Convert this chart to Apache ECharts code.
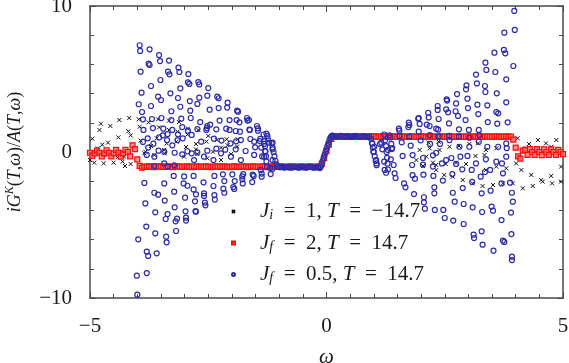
<!DOCTYPE html>
<html><head><meta charset="utf-8">
<script src="https://cdn.jsdelivr.net/npm/echarts@6/dist/echarts.min.js"></script>
<style>html,body{margin:0;padding:0;background:#fff}#c{width:569px;height:363px}</style>
</head><body><div id="c"></div>
<script>
// ---------- data ----------
const xTicks = [-5, 0, 5];
const yTicks = [-10, 0, 10];
const seriesNames = ['Ji1', 'Jf2', 'Jf05'];

// J_i = 1, T = -14.7 (black crosses)
const blackPts = [[-4.77,1.94],[-4.80,1.51],[-4.57,1.78],[-4.38,2.19],[-4.17,2.33],[-4.95,0.91],[-4.74,0.50],[-4.62,0.64],[-4.40,1.00],[-4.19,1.42],[-4.14,1.14],[-3.97,2.24],[-3.95,1.73],[-3.76,2.03],[-3.56,2.24],[-3.54,1.69],[-3.33,2.15],[-3.12,2.05],[-3.33,1.51],[-3.15,1.39],[-2.93,1.60],[-2.94,1.19],[-2.71,1.51],[-3.93,0.78],[-3.71,0.41],[-3.59,0.94],[-3.38,0.59],[-3.17,0.71],[-2.97,0.34],[-2.76,0.55],[-2.54,0.71],[-2.50,1.10],[-2.32,0.82],[-2.11,0.87],[-1.88,0.87],[-4.84,0.25],[-4.40,0.02],[-3.83,0.02],[-3.42,-0.09],[-2.76,0.18],[-2.40,0.02],[-2.23,0.30],[-2.09,0.46],[-1.89,0.37],[-5.00,-0.55],[-4.91,-0.73],[-4.71,-0.78],[-4.50,-0.73],[-4.31,-0.66],[-4.26,-0.96],[-4.14,-0.82],[-3.85,-0.09],[-3.64,-0.21],[-3.43,0.14],[-3.01,-0.32],[-2.73,-0.14],[-2.52,-0.43],[-2.23,-0.55],[-2.02,-0.14],[-4.91,-0.09],[-4.70,-0.21],[-4.42,-0.37],[-4.28,-0.32],
[2.16,0.64],[2.37,0.71],[2.60,0.36],[2.80,0.41],[3.02,0.55],[3.20,0.59],[3.37,0.14],[3.59,0.25],[4.04,0.94],[4.28,0.55],[4.47,0.82],[4.64,0.59],[4.86,0.82],[4.75,0.36],[4.47,0.25],[4.22,0.25],[2.18,0.25],[1.97,0.14],[2.39,0.14],[2.04,-0.96],[2.25,-0.73],[2.32,-0.89],[2.52,-0.82],[2.74,-0.73],[2.95,-0.82],[3.15,-0.27],[3.37,-1.23],[3.34,-0.21],[3.59,-1.00],[3.80,-1.12],[4.01,-0.78],[4.12,-1.23],[4.33,-1.57],[4.54,-1.92],[4.75,-1.64],[4.96,-1.00],[4.96,-2.03],[4.15,-2.49],[4.36,-2.33],[4.57,-2.03],[4.77,-2.15],[3.94,-2.15],[3.73,-2.15],[3.52,-2.26],[3.30,-2.33],[3.09,-2.15],[2.88,-1.92],[2.67,-1.69],[2.49,-1.57],[2.32,-1.23],[2.11,-0.32],[1.90,-0.55]];

// J_f = 2, T = 14.7 (red squares), sampled on an omega grid
const redOmegaStart = -5, redOmegaStep = 0.05;
const redValues = [
-0.05,-0.25,-0.10,0.10,-0.05,-0.30,-0.10,0.12,-0.05,-0.30,-0.10,0.15,-0.05,-0.32,-0.10,0.15,0.00,-0.30,0.45,0.20,-0.50,-0.95,-1.08,
-1.02,-1.00,-0.98,-1.00,-1.03,-1.01,-0.99,-1.00,-1.02,-1.00,
-0.98,-1.01,-1.03,-1.00,-0.99,-1.00,-1.02,-1.01,-0.98,-1.00,
-1.03,-1.00,-0.99,-1.01,-1.02,-1.00,-0.98,-1.00,-1.03,-1.01,
-0.99,-1.00,-1.02,-1.00,-0.98,-1.01,-1.03,-1.00,-0.99,-1.00,
-1.02,-1.01,-0.98,-1.00,-1.03,-1.00,-0.99,-1.01,-1.02,-1.00,
-0.98,-1.00,-1.03,-1.01,-0.99,-1.00,-1.02,-1.00,-0.98,-1.01,
-1.03,-1.00,-0.99,-1.00,-1.02,-1.01,-0.98,-1.00,-1.03,-1.00,
-0.99,-1.01,-1.02,-1.00,
-1.00,-0.80,-0.40,0.05,0.50,0.90,1.05,
1.05,1.07,1.04,1.05,1.08,1.06,1.03,1.05,1.07,1.05,
1.04,1.06,1.08,1.05,1.03,1.05,1.07,1.06,1.04,1.05,
1.08,1.05,1.03,1.06,1.07,1.05,1.04,1.05,1.08,1.06,
1.03,1.05,1.07,1.05,1.04,1.06,1.08,1.05,1.03,1.05,
1.07,1.06,1.04,1.05,1.08,1.05,1.03,1.06,1.07,1.05,
1.04,1.05,1.08,1.06,1.03,1.05,1.07,1.05,1.04,1.06,
1.08,1.05,1.03,1.05,1.07,1.06,1.04,1.05,1.08,1.05,
1.03,1.06,1.07,1.05,
1.05,0.85,0.30,-0.30,-0.45,0.10,0.15,-0.20,0.20,0.00,-0.20,0.20,0.00,-0.22,0.18,0.00,-0.20,0.18,0.00,-0.20,0.15,0.00,-0.15];

// J_f = 0.5, T = 14.7 (blue circles)
const blueLeft = [[-3.95,7.31],[-3.94,6.92],[-3.74,7.03],[-3.54,6.64],[-3.52,6.23],[-3.33,6.26],[-3.93,5.50],[-3.76,6.05],[-3.74,5.96],[-3.13,5.78],[-3.35,5.50],[-3.32,5.32],[-3.11,5.48],[-2.92,5.34],[-3.51,4.93],[-3.71,4.52],[-3.09,4.36],[-2.93,4.77],[-2.90,4.66],[-2.71,4.79],[-2.69,4.63],[-3.91,4.06],[-3.30,4.02],[-3.56,3.79],[-3.50,3.56],[-3.14,3.70],[-2.89,3.49],[-2.69,3.72],[-2.50,4.38],[-2.52,3.86],[-2.31,3.79],[-2.28,3.68],[-3.97,3.27],[-3.71,3.15],[-3.90,2.74],[-3.28,2.79],[-3.09,3.10],[-2.73,3.29],[-2.88,2.83],[-2.47,2.90],[-2.28,3.01],[-2.09,3.38],[-2.10,3.04],[-1.89,2.83],[-1.87,2.76],[-1.90,2.19],[-1.68,2.33],[-1.67,2.15],[-1.47,1.78],[-1.45,1.62],[-1.27,1.26],[-1.25,1.10],[-3.88,2.24],[-3.69,2.26],[-3.49,2.33],[-3.28,2.19],[-3.07,2.28],[-2.87,2.33],[-2.67,2.05],[-2.46,1.87],[-2.26,2.15],[-2.05,2.19],[-1.84,2.03],[-1.64,2.19],[-1.62,1.51],[-2.05,1.51],[-2.12,1.60],[-2.52,1.78],[-2.53,1.64],[-3.87,1.51],[-3.67,1.64],[-3.45,1.60],[-3.26,1.51],[-3.05,1.71],[-2.93,1.46],[-2.73,1.57],[-2.54,1.51],[-2.33,1.55],[-1.92,1.44],[-1.83,1.39],[-1.63,1.53],[-1.45,1.46],[-1.24,0.89],[-3.46,1.14],[-3.36,1.23],[-3.14,1.21],[-3.37,0.82],[-3.54,1.00],[-3.78,0.94],[-3.66,0.57],[-3.88,0.69],[-3.26,0.46],[-3.15,0.82],[-3.04,0.94],[-2.85,1.17],[-2.65,0.71],[-2.38,0.91],[-2.22,0.78],[-2.03,0.59],[-1.91,0.73],[-1.81,0.82],[-1.61,0.89],[-1.53,0.71],[-1.41,0.75],[-1.32,0.55],[-1.21,0.64],[-1.14,0.64],[-3.77,0.30],[-3.55,0.09],[-3.05,-0.16],[-2.85,-0.09],[-2.73,-0.02],[-2.52,0.09],[-2.33,0.23],[-2.14,0.16],[-1.92,0.18],[-1.71,0.07],[-1.51,0.32],[-1.30,0.05],[-1.14,0.18],
[-3.80,-0.20],[-3.64,-0.32],[-3.43,0.02],[-3.21,-0.05],[-2.94,0.05],[-2.80,-0.55],[-2.59,-0.32],[-2.39,-0.55],[-2.23,-0.09],[-2.02,-0.32],[-1.81,-0.55],[-1.53,-0.20],[-1.32,-0.32],[-1.14,-0.55],
[-3.85,-2.12],[-3.83,-3.52],[-3.81,-5.11],[-3.98,-5.98],[-4.01,-8.47],[-4.00,-9.77],[-3.80,-6.83],[-3.77,-7.12],[-3.80,-8.29],[-3.62,-4.13],[-3.62,-5.57],[-3.59,-6.94],[-3.64,-2.79],[-3.56,-2.92],[-3.43,-2.15],[-3.42,-3.33],[-3.39,-5.80],[-3.38,-6.19],[-3.40,-4.59],[-3.36,-4.25],[-3.22,-2.72],[-3.21,-3.79],[-3.19,-4.75],[-3.18,-5.41],[-3.16,-4.57],[-3.23,-1.64],[-3.02,-2.15],[-2.99,-3.13],[-2.98,-4.06],[-2.97,-4.50],[-2.97,-4.70],[-2.94,-2.31],[-3.01,-1.67],[-2.81,-1.64],[-2.81,-2.56],[-2.78,-3.38],[-2.77,-4.04],[-2.76,-4.09],[-2.76,-2.90],[-2.60,-2.08],[-2.59,-2.83],[-2.57,-3.47],[-2.56,-3.65],[-2.59,-3.01],[-2.39,-2.33],[-2.37,-2.95],[-2.36,-3.26],[-2.37,-1.64],[-2.19,-1.53],[-2.16,-1.99],[-2.18,-2.51],[-2.16,-2.79],[-1.99,-1.53],[-1.97,-2.40],[-1.95,-2.53],[-1.94,-1.99],[-1.78,-1.67],[-1.78,-1.87],[-1.77,-2.15],[-1.76,-1.51],[-1.56,-1.55],[-1.54,-1.64],[-1.57,-2.06],[-1.39,-1.23],[-1.37,-1.48],[-1.37,-1.69],[-1.19,-1.10],[-1.14,-1.14],[-1.18,-1.51],[-3.36,-1.00],[-3.22,-0.91],[-3.64,-0.96],[-3.43,-0.78],
[-1.40,0.90],[-1.38,0.30],[-1.36,-0.30],[-1.33,1.20],[-1.31,0.75],[-1.30,0.40],[-1.29,0.05],[-1.28,-0.30],[-1.27,-0.65],[-1.26,-1.00],[-1.16,0.60],[-1.14,0.30],[-1.12,0.00],[-1.10,-0.30],[-1.08,-0.60],[-1.06,-0.85],[-1.03,-1.00]];

const blueCenter = [[-0.98,-1.05],[-0.94,-1.02],[-0.90,-1.07],[-0.86,-1.04],[-0.82,-1.01],[-0.78,-1.06],[-0.74,-1.08],[-0.70,-1.03],[-0.66,-1.01],[-0.62,-1.05],[-0.58,-1.08],[-0.54,-1.04],[-0.50,-1.02],[-0.46,-1.06],[-0.42,-1.07],[-0.38,-1.03],[-0.34,-1.01],[-0.30,-1.05],[-0.26,-1.08],[-0.22,-1.04],[-0.18,-1.06],[-0.14,-1.10],
[-0.12,-1.00],[-0.10,-0.85],[-0.08,-0.60],[-0.06,-0.40],[-0.04,-0.20],[-0.02,0.00],[0.00,0.20],[0.02,0.40],[0.04,0.60],[0.06,0.80],[0.08,0.95],[0.10,1.05],[0.12,1.12],
[0.14,1.10],[0.18,1.06],[0.22,1.04],[0.26,1.08],[0.30,1.10],[0.34,1.06],[0.38,1.03],[0.42,1.07],[0.46,1.09],[0.50,1.05],[0.54,1.03],[0.58,1.07],[0.62,1.10],[0.66,1.06],[0.70,1.04],[0.74,1.08],[0.78,1.09],[0.82,1.05],[0.86,1.03],[0.90,1.07]];

const blueRight = [[3.97,9.66],[3.98,8.36],[3.76,8.17],[3.55,6.80],[3.75,6.99],[3.78,6.76],[3.95,5.89],[3.36,6.12],[3.38,5.62],[3.80,4.98],[3.57,5.48],[3.16,5.30],[3.18,4.70],[2.96,4.57],[2.95,4.29],[3.35,4.52],[3.36,4.11],[3.60,4.02],[3.80,3.40],[2.76,3.97],[2.74,3.33],[2.54,3.61],[2.55,3.52],[2.98,3.65],[3.19,3.24],[3.40,3.20],[3.59,2.74],[3.63,2.65],[2.35,3.15],[2.35,2.88],[2.53,2.92],[2.57,2.72],[2.73,2.79],[2.78,2.47],[2.99,3.01],[3.21,2.60],[2.94,2.19],[2.15,2.69],[2.16,2.37],[1.95,2.33],[1.94,2.28],[2.37,2.26],[2.59,1.96],[2.80,1.55],[3.01,1.51],[3.22,1.51],[3.41,2.05],[3.61,1.94],[3.83,2.03],[1.74,2.01],[1.75,1.85],[1.53,1.60],[1.54,1.46],[1.73,1.71],[1.97,1.92],[2.12,1.87],[2.18,1.78],[2.32,1.60],[2.36,1.53],[1.95,1.39],[2.59,1.10],[2.18,1.16],[1.33,1.14],[1.35,1.00],[1.75,1.05],[1.54,1.10],[2.37,1.05],[2.80,1.05],[3.02,0.98],[3.23,1.16],[1.99,0.80],[1.78,0.43],[1.59,0.66],[1.37,0.55],[1.16,0.64],[1.13,0.55],[0.97,0.59],[1.01,0.36],[1.18,0.18],[1.30,0.14],[1.39,0.27],[2.19,0.55],[2.40,0.55],[2.60,0.82],[2.81,0.36],[3.02,0.36],[3.22,0.71],[3.40,0.36],[3.63,0.36],[3.80,0.59],[3.81,0.27],
[0.99,0.02],[1.05,-0.55],[1.06,-0.78],[1.22,-0.66],[1.23,-1.23],[1.26,-1.42],[1.42,-0.89],[1.44,-1.46],[1.46,-1.78],[1.64,-2.15],[1.67,-2.42],[1.81,-0.89],[1.82,-1.59],[1.85,-2.88],[1.87,-1.83],[2.04,-0.87],[2.05,-1.55],[2.06,-3.10],[2.06,-3.45],[2.08,-3.88],[2.25,-1.00],[2.26,-1.64],[2.28,-2.42],[2.28,-2.83],[2.29,-3.97],[2.47,-3.97],[2.50,-4.52],[2.44,-0.78],[2.46,-1.96],[2.66,-1.51],[2.67,-2.79],[2.68,-4.70],[2.71,-3.40],[2.87,-1.19],[2.88,-2.47],[2.90,-3.56],[2.90,-4.93],[2.64,-0.41],[2.83,-0.32],[3.07,-1.23],[3.08,-2.05],[3.09,-3.79],[3.11,-5.66],[3.12,-5.89],[3.26,-1.69],[3.28,-2.83],[3.29,-4.11],[3.28,-5.43],[3.30,-6.35],[3.35,-1.37],[3.46,-1.23],[3.47,-2.65],[3.49,-3.74],[3.52,-4.02],[3.53,-6.76],[3.71,-0.78],[3.73,-1.46],[3.70,-2.15],[3.70,-4.66],[3.73,-6.07],[3.76,-6.16],[3.92,-7.17],[3.92,-7.40],[3.91,-5.62],[3.90,-4.15],[3.94,-3.40],[3.92,-2.79],[3.88,-2.10],
[1.61,-0.27],[1.82,-0.21],[2.04,-0.41],[2.25,-0.23],[2.32,-0.05],[2.53,-0.55],[2.74,-0.82],[2.98,-0.27],[3.16,-0.78],[3.37,-0.50],[3.59,-0.66],[3.80,-0.32],
[0.94,0.90],[0.96,0.60],[0.98,0.30],[1.00,0.00],[1.02,-0.30],[1.04,-0.60],[1.06,-0.90],[1.22,1.20],[1.24,0.80],[1.26,0.40],[1.27,0.00],[1.28,-0.40],[1.29,-0.80],[1.30,-1.20],[1.36,-0.50],[1.38,0.20]];

// ---------- build ----------
const redPts = redValues.map((v, i) => [+(redOmegaStart + i * redOmegaStep).toFixed(2), v]);
const bluePts = blueLeft.concat(blueCenter, blueRight);

const SERIF = "'Liberation Serif'";
const minus = v => String(v).replace('-', '\u2212');
const axisCol = '#4a4a4a';
const txtCol = '#1a1a1a';
const FS = 21;
const YFS = 18;

function xAx(pos, show) {
  return {
    type: 'value', position: pos, min: xTicks[0], max: xTicks[2], interval: 5,
    axisLine: { show: true, onZero: false, lineStyle: { color: axisCol, width: 1.5 } },
    axisTick: { show: true, inside: true, length: 6, lineStyle: { color: axisCol, width: 1 } },
    minorTick: { show: true, splitNumber: 10, length: 4, lineStyle: { color: axisCol, width: 1 } },
    splitLine: { show: false },
    axisLabel: { show: show, formatter: minus, fontFamily: SERIF, fontSize: FS, color: txtCol, margin: 18 },
    name: show ? 'ω' : '', nameLocation: 'middle', nameGap: 49,
    nameTextStyle: { fontFamily: SERIF, fontStyle: 'italic', fontSize: FS, color: txtCol }
  };
}
function yAx(pos, show) {
  return {
    type: 'value', position: pos, min: yTicks[0], max: yTicks[2], interval: 10,
    axisLine: { show: true, onZero: false, lineStyle: { color: axisCol, width: 1.5 } },
    axisTick: { show: true, inside: true, length: 6, lineStyle: { color: axisCol, width: 1 } },
    minorTick: { show: true, splitNumber: 5, length: 4, lineStyle: { color: axisCol, width: 1 } },
    splitLine: { show: false },
    axisLabel: { show: show, formatter: minus, fontFamily: SERIF, fontSize: FS, color: txtCol, margin: 18 },
    name: show ? '{i|iG}{s|K}{r|(}{i|T}{r|,}{i|ω}{r|)/}{i|A}{r|(}{i|T}{r|,}{i|ω}{r|)}' : '',
    nameLocation: 'middle', nameGap: 64, nameRotate: 90,
    nameTextStyle: {
      fontFamily: SERIF, fontSize: YFS, color: txtCol,
      rich: {
        i: { fontFamily: SERIF, fontStyle: 'italic', fontSize: YFS, color: txtCol, lineHeight: 22 },
        r: { fontFamily: SERIF, fontSize: YFS, color: txtCol, lineHeight: 22 },
        s: { fontFamily: SERIF, fontStyle: 'italic', fontSize: 12, color: txtCol, lineHeight: 12, verticalAlign: 'top' }
      }
    }
  };
}

const legendText = {
  Ji1: '{g| }{i|J}{b|i}{r|  =  1, }{i|T}{r|  =  \u221214.7}',
  Jf2: '{g| }{i|J}{b|f}{r|  =  2, }{i|T}{r|  =  14.7}',
  Jf05: '{g| }{i|J}{b|f}{r|  =  0.5, }{i|T}{r|  =  14.7}'
};

const option = {
  animation: false,
  backgroundColor: '#fff',
  grid: { left: 90, right: 6, top: 6, bottom: 65, containLabel: false, outerBoundsMode: 'none' },
  xAxis: [xAx('bottom', true), xAx('top', false)],
  yAxis: [yAx('left', true), yAx('right', false)],
  legend: {
    orient: 'vertical', left: 226, top: 196, itemWidth: 3, itemHeight: 3, itemGap: 10,
    data: seriesNames,
    formatter: n => legendText[n],
    textStyle: {
      fontFamily: SERIF, fontSize: FS, color: txtCol,
      rich: {
        g: { width: 20, fontSize: 10 },
        i: { fontFamily: SERIF, fontStyle: 'italic', fontSize: FS, color: txtCol, lineHeight: 22 },
        r: { fontFamily: SERIF, fontSize: FS, color: txtCol, lineHeight: 22 },
        b: { fontFamily: SERIF, fontStyle: 'italic', fontSize: 14, color: txtCol, lineHeight: 10, verticalAlign: 'bottom' }
      }
    }
  },
  series: [
    { name: 'Ji1', type: 'scatter', data: blackPts, symbol: 'path://M0,0L10,10M10,0L0,10', symbolSize: 4,
      itemStyle: { color: 'rgba(0,0,0,0)', borderColor: '#111', borderWidth: 1, opacity: 1 } },
    { name: 'Jf2', type: 'scatter', data: redPts, symbol: 'rect', symbolSize: 5,
      itemStyle: { color: 'rgba(255,110,110,0.8)', borderColor: '#ff0a0a', borderWidth: 1.2, opacity: 1 } },
    { name: 'Jf05', type: 'scatter', data: bluePts, symbol: 'circle', symbolSize: 5,
      itemStyle: { color: 'rgba(255,255,255,0)', borderColor: '#2c2ca8', borderWidth: 1.2, opacity: 1 } }
  ]
};
echarts.init(document.getElementById('c'), null, { renderer: 'canvas' }).setOption(option);
</script></body></html>
